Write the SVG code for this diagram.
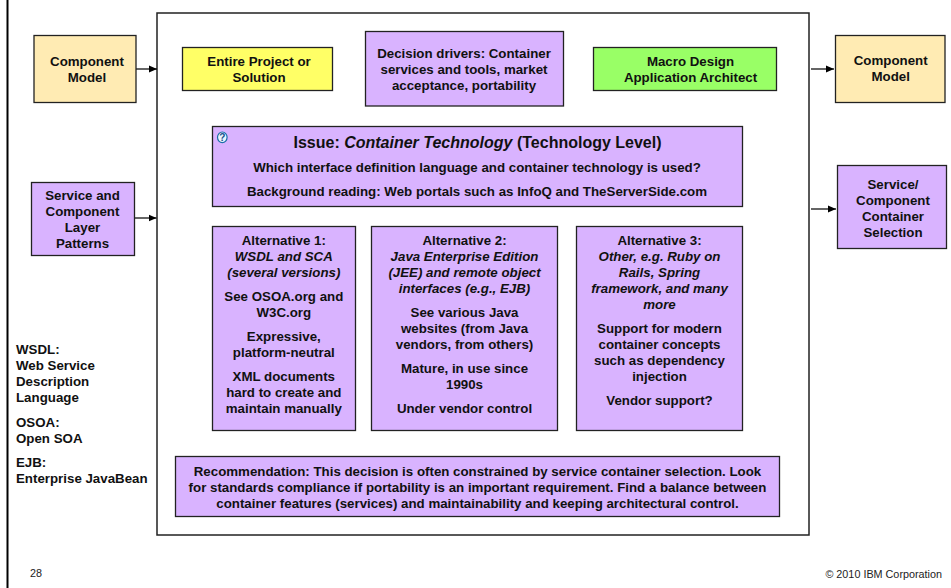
<svg xmlns="http://www.w3.org/2000/svg" width="951" height="588" viewBox="0 0 951 588">
<defs>
<marker id="arr" markerUnits="userSpaceOnUse" markerWidth="9" markerHeight="8" refX="8" refY="4" orient="auto"><path d="M0 0.500L8 4L0 7.500z" fill="#000"/></marker>
</defs>
<style>
text{font-family:"Liberation Sans",Arial,sans-serif;font-weight:bold;fill:#111;text-anchor:middle;font-size:13.300px}
.b{stroke:#222;stroke-width:1.3}
.p{fill:#d9b3ff}.c{fill:#ffebb3}
.l{text-anchor:start}
.f{font-weight:normal;font-size:10.800px;fill:#222}
.i{font-style:italic}
.t{font-size:16px}
.con{stroke:#111;stroke-width:1.3;fill:none;marker-end:url(#arr)}
</style>
<rect x="0" y="0" width="951" height="588" fill="#fff"/>
<rect x="6.500" y="-2" width="2" height="592" fill="#000"/>
<rect id="frame" x="157" y="13" width="652" height="522" fill="#fff" stroke="#222" stroke-width="1.500"/>
<g id="connectors">
<line class="con" x1="136" y1="69" x2="157" y2="69"/>
<line class="con" x1="135" y1="218" x2="156.500" y2="218"/>
<line class="con" x1="811" y1="69" x2="834" y2="69"/>
<line class="con" x1="811" y1="209" x2="836" y2="209"/>
</g>
<g id="n-component-in"><rect class="b c" x="34" y="35.500" width="102" height="67"/><text x="87" y="66">Component</text><text x="87" y="82">Model</text></g>
<g id="n-patterns"><rect class="b p" x="31.500" y="182.500" width="103" height="73"/><text x="82.500" y="200">Service and</text><text x="82.500" y="216">Component</text><text x="82.500" y="232">Layer</text><text x="82.500" y="248">Patterns</text></g>
<g id="n-component-out"><rect class="b c" x="835.500" y="35.500" width="109.500" height="67"/><text x="890.700" y="65">Component</text><text x="890.700" y="81">Model</text></g>
<g id="n-selection"><rect class="b p" x="837.500" y="165.500" width="109" height="83"/><text x="893" y="189">Service/</text><text x="893" y="205">Component</text><text x="893" y="221">Container</text><text x="893" y="237">Selection</text></g>
<g id="n-project"><rect class="b" fill="#ffff66" x="182.500" y="47.500" width="150" height="43"/><text x="259" y="66">Entire Project or</text><text x="259" y="82">Solution</text></g>
<g id="n-drivers"><rect class="b p" x="365.500" y="31.500" width="198" height="74.500"/><text x="464" y="58">Decision drivers: Container</text><text x="464" y="74">services and tools, market</text><text x="464" y="90">acceptance, portability</text></g>
<g id="n-macro"><rect class="b" fill="#99ff66" x="593.500" y="47.500" width="183" height="43"/><text x="690.500" y="66">Macro Design</text><text x="690.500" y="82">Application Architect</text></g>
<g id="n-issue"><rect class="b p" x="212.500" y="126.500" width="530" height="80"/>
<ellipse cx="222.300" cy="137.300" rx="4.800" ry="5.300" fill="#eaf4ff" stroke="#1a6fa8" stroke-width="1.200"/><text x="222.300" y="141" style="font-size:10px;fill:#14508c">?</text>
<text class="t" x="477.500" y="148">Issue: <tspan class="i">Container Technology</tspan> (Technology Level)</text><text x="477" y="172">Which interface definition language and container technology is used?</text><text x="477" y="196">Background reading: Web portals such as InfoQ and TheServerSide.com</text></g>
<g id="n-alt1"><rect class="b p" x="212.500" y="226.500" width="143" height="204"/><text x="283.800" y="245">Alternative 1:</text><text class="i" x="283.800" y="261">WSDL and SCA</text><text class="i" x="283.800" y="277">(several versions)</text><text x="283.800" y="301">See OSOA.org and</text><text x="283.800" y="317">W3C.org</text><text x="283.800" y="341">Expressive,</text><text x="283.800" y="357">platform-neutral</text><text x="283.800" y="381">XML documents</text><text x="283.800" y="397">hard to create and</text><text x="283.800" y="413">maintain manually</text></g>
<g id="n-alt2"><rect class="b p" x="371.500" y="226.500" width="186" height="204"/><text x="464.500" y="245">Alternative 2:</text><text class="i" x="464.500" y="261">Java Enterprise Edition</text><text class="i" x="464.500" y="277">(JEE) and remote object</text><text class="i" x="464.500" y="293">interfaces (e.g., EJB)</text><text x="464.500" y="317">See various Java</text><text x="464.500" y="333">websites (from Java</text><text x="464.500" y="349">vendors, from others)</text><text x="464.500" y="373">Mature, in use since</text><text x="464.500" y="389">1990s</text><text x="464.500" y="413">Under vendor control</text></g>
<g id="n-alt3"><rect class="b p" x="576.500" y="226.500" width="166" height="204"/><text x="659.500" y="245">Alternative 3:</text><text class="i" x="659.500" y="261">Other, e.g. Ruby on</text><text class="i" x="659.500" y="277">Rails, Spring</text><text class="i" x="659.500" y="293">framework, and many</text><text class="i" x="659.500" y="309">more</text><text x="659.500" y="333">Support for modern</text><text x="659.500" y="349">container concepts</text><text x="659.500" y="365">such as dependency</text><text x="659.500" y="381">injection</text><text x="659.500" y="405">Vendor support?</text></g>
<g id="n-recommendation"><rect class="b p" x="175.500" y="456.500" width="604" height="60"/><text x="477.500" y="476">Recommendation: This decision is often constrained by service container selection. Look</text><text x="477.500" y="492">for standards compliance if portability is an important requirement. Find a balance between</text><text x="477.500" y="508">container features (services) and maintainability and keeping architectural control.</text></g>
<g id="glossary"><text class="l" x="16" y="354">WSDL:</text><text class="l" x="16" y="370">Web Service</text><text class="l" x="16" y="386">Description</text><text class="l" x="16" y="402">Language</text><text class="l" x="16" y="427">OSOA:</text><text class="l" x="16" y="443">Open SOA</text><text class="l" x="16" y="467">EJB:</text><text class="l" x="16" y="483">Enterprise JavaBean</text></g>
<g id="footer"><text class="f" x="30" y="577" style="text-anchor:start">28</text><text class="f" x="942" y="578" style="text-anchor:end">© 2010 IBM Corporation</text></g>
</svg>
